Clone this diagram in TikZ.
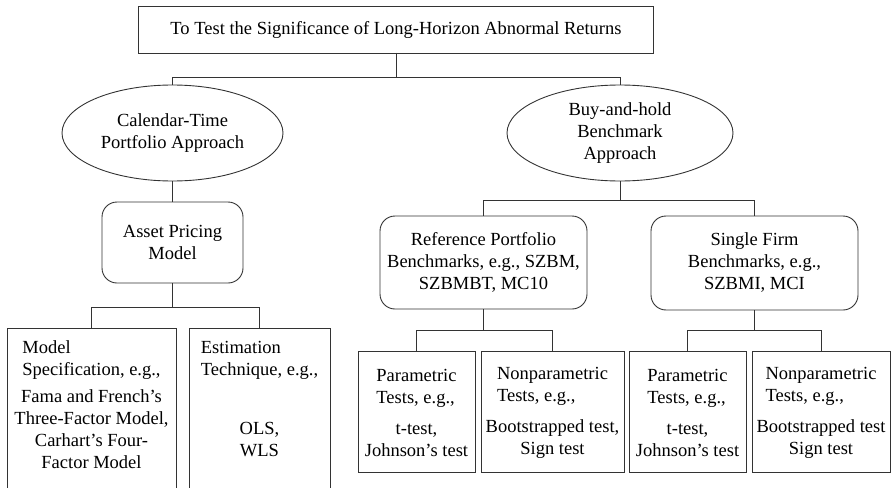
\documentclass[tikz,border=0pt]{standalone}
\usepackage{fontspec}
\setmainfont{Liberation Serif}
\usetikzlibrary{shapes.geometric}

\newcommand\leadin[2]{\begin{tabular}[b]{@{}l@{}}#1\\#2\end{tabular}}

\tikzset{
    every node/.style={font=\fontsize{18.5}{22}\selectfont, align=center, inner sep=0pt, outer sep=0pt},
    conn/.style={draw=black!80, line width=0.9pt},
    titlebox/.style={conn, minimum width=515pt, minimum height=47pt},
    oval/.style={conn, ellipse, minimum height=96pt},
    rbox/.style={conn, rounded corners=15pt},
    leaf/.style={conn, minimum height=121pt},
    openleaf/.style={conn, anchor=north, inner ysep=10pt}
}

\begin{document}
\begin{tikzpicture}[x=1pt,y=-1pt]
            \clip (0,0) rectangle (891,487);
            \node[titlebox] (title) at (396,29.5) {To Test the Significance of Long-Horizon Abnormal Returns};
            \node[oval,minimum width=221pt] (cal) at (172.5,133) {Calendar-Time\\Portfolio Approach};
            \node[oval,minimum width=226pt] (buy) at (620,133) {Buy-and-hold\\Benchmark\\Approach};
            \node[rbox,minimum width=141pt,minimum height=81pt] (asset) at (172.5,242.5) {Asset Pricing\\Model};
            \node[rbox,minimum width=207pt,minimum height=93pt] (ref) at (483.5,262.5) {Reference Portfolio\\Benchmarks, e.g., SZBM,\\SZBMBT, MC10};
            \node[rbox,minimum width=207pt,minimum height=94pt] (single) at (754.5,263) {Single Firm\\Benchmarks, e.g.,\\SZBMI, MCI};
            \node[openleaf,minimum width=169pt] (spec) at (91.5,328) {\leadin{Model}{Specification, e.g.,}\\[5pt]Fama and French's\\Three-Factor Model,\\Carhart's Four-\\Factor Model\rule[-30pt]{0pt}{30pt}};
            \node[openleaf,minimum width=141pt] (est) at (259.5,328) {\leadin{Estimation}{Technique, e.g.,}\\[37pt]OLS,\\WLS\rule[-60pt]{0pt}{60pt}};
            \node[leaf,minimum width=117pt] (refpar) at (416.5,411.5) {\leadin{Parametric}{Tests, e.g.,}\\[9pt]t-test,\\Johnson's test};
            \node[leaf,minimum width=143pt] (refnon) at (552.5,411.5) {\leadin{Nonparametric}{Tests, e.g.,}\\[9pt]Bootstrapped test,\\Sign test};
            \node[leaf,minimum width=117pt] (sinpar) at (687.5,411.5) {\leadin{Parametric}{Tests, e.g.,}\\[9pt]t-test,\\Johnson's test};
            \node[leaf,minimum width=138pt] (sinnon) at (821,411.5) {\leadin{Nonparametric}{Tests, e.g.,}\\[9pt]Bootstrapped test\\Sign test};
            \foreach \p/\y/\c in {title/77/cal, title/77/buy, buy/200/ref, buy/200/single,
                asset/307/spec, asset/307/est, ref/330/refpar, ref/330/refnon,
                single/330/sinpar, single/330/sinnon}{
                \draw[conn] (\p.south) -- (\p.south |- 0,\y) -| (\c.north);
            }
            \draw[conn] (cal) -- (asset);
        \end{tikzpicture}
\end{document}
